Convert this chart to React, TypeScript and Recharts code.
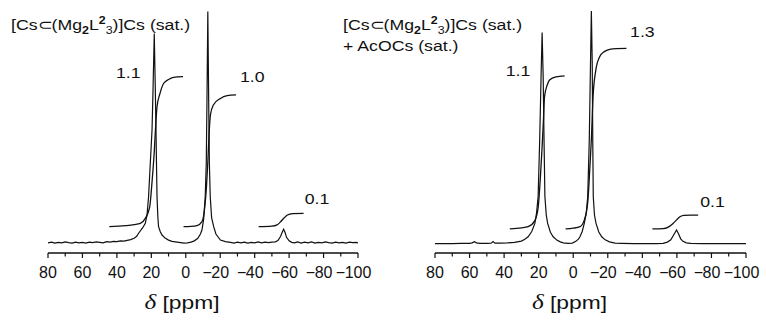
import React from "react";
import { LineChart, Line, XAxis, YAxis, ReferenceDot } from "recharts";

// x axis (delta / ppm), drawn reversed
const ppmTicks = [80, 70, 60, 50, 40, 30, 20, 10, 0, -10, -20, -30, -40, -50, -60, -70, -80, -90, -100];

// left: [Cs⊂(Mg2L2 3)]Cs (sat.)   -- [ppm, intensity]
const specLeft: [number, number][] = [
  [80, 4.0], [78, 4.3], [76, 3.9], [74, 4.2], [72, 4.0], [70, 4.4], [68, 4.1], [66, 3.9], [64, 4.3], [62, 4.0],
  [60, 4.2], [58, 3.9], [56, 4.3], [54, 4.1], [52, 4.4], [50, 4.2], [48, 4.0], [46, 4.5], [44, 4.3], [42, 4.6],
  [40, 4.5], [38, 4.8], [36, 4.7], [34, 5.0], [32, 5.3], [30, 5.8], [28.5, 6.6], [27.4, 7.8], [25, 10], [23.5, 11.7],
  [22.5, 15], [21.6, 22.3], [20.6, 35.5], [19.6, 48.6], [19, 65], [18.3, 86.8], [17.7, 65], [17.3, 48.6], [17, 35],
  [16.7, 22.3], [16.2, 14], [15.8, 10.4], [14.8, 8.4], [13.8, 7.1], [12, 5.9], [10, 5.1], [8, 4.6], [5, 4.3], [3, 4.1],
  [1, 3.9], [-1, 4.0], [-3, 4.3], [-5, 4.8], [-7, 5.8], [-8.5, 7.5], [-9.4, 9.1], [-10.4, 13.5], [-11.3, 22.3],
  [-11.9, 35.5], [-12.3, 60], [-12.8, 95.5], [-13.3, 60], [-13.7, 35.5], [-14.2, 22.3], [-15, 14], [-16.2, 10.4],
  [-17.5, 7.5], [-20.1, 5.1], [-23, 4.5], [-26, 4.2], [-28, 3.9], [-30, 4.3], [-32, 4.0], [-34, 4.3], [-36, 3.9],
  [-38, 4.2], [-40, 4.0], [-42, 4.4], [-44, 4.0], [-46, 4.3], [-48, 4.1], [-50, 4.3], [-52, 4.4], [-53.5, 4.9],
  [-55, 6.5], [-56, 8.2], [-56.8, 9.4], [-57.7, 8.0], [-58.5, 6.2], [-60, 4.8], [-61.5, 4.2], [-63, 4.0], [-65, 4.4],
  [-67, 3.9], [-69, 4.3], [-71, 4.0], [-73, 4.4], [-75, 3.9], [-77, 4.2], [-79, 4.0], [-81, 4.4], [-83, 4.1],
  [-85, 3.9], [-87, 4.3], [-89, 4.0], [-91, 4.2], [-93, 3.9], [-95, 4.3], [-97, 4.1], [-99, 4.2], [-100, 4.0],
];

const intLeft1: [number, number][] = [
  [44.4, 10.4], [35, 10.8], [30, 11.2], [26.4, 11.7], [23.5, 13.7], [21, 18], [19.6, 28], [18.3, 40], [17.5, 50],
  [16.7, 57.8], [15, 63], [12.9, 67], [10, 68.6], [7.1, 69.4], [1.6, 69.7],
];
const intLeft2: [number, number][] = [
  [1.3, 10.4], [-3, 10.5], [-6.5, 10.8], [-9.4, 12.4], [-11, 18], [-12, 26], [-12.8, 36], [-13.6, 48],
  [-14.3, 54.5], [-16, 58.5], [-20.1, 61.1], [-24, 62.2], [-29.2, 62.5],
];
const intLeft3: [number, number][] = [
  [-42.3, 10.4], [-50, 10.6], [-53, 11.1], [-55, 12.3], [-57, 13.8], [-59, 15.0], [-62, 15.6], [-68.4, 15.7],
];
const labelsLeft = [
  { ppm: 33.4, v: 71.5, text: "1.1" },
  { ppm: -38.6, v: 69.7, text: "1.0" },
  { ppm: -76.2, v: 21.6, text: "0.1" },
];

// right: + AcOCs (sat.)
const specRight: [number, number][] = [
  [80, 3.7], [75, 3.7], [70, 3.7], [65, 3.8], [60, 3.8], [58.5, 4.0], [57.2, 4.5], [56, 4.0], [54, 3.8], [50, 3.8],
  [47.5, 3.9], [46.4, 4.5], [45.3, 3.9], [42, 3.9], [38, 4.0], [34, 4.2], [30, 4.7], [28, 5.4], [26.1, 6.4],
  [24, 8.5], [22.2, 11.7], [21.2, 16], [20.3, 22.3], [19.4, 45], [18.6, 70], [18, 87.1], [17.4, 70], [16.9, 45],
  [16.4, 22.3], [15.6, 15], [14.8, 11.7], [13.2, 8.2], [11.6, 6.4], [9.5, 5.1], [7.5, 4.4], [5.8, 4.0], [3, 3.8],
  [0.5, 3.9], [-1.5, 4.6], [-3, 5.5], [-3.9, 6.4], [-5.2, 8.5], [-6.4, 11.7], [-7.5, 15.5], [-8.4, 22.3],
  [-9.3, 45], [-10, 75], [-10.5, 95.6], [-11, 75], [-11.3, 45], [-11.6, 22.3], [-12.3, 15], [-13.2, 11.7],
  [-14.8, 8.3], [-16.5, 6.4], [-18.5, 5.2], [-21, 4.4], [-24.2, 3.9], [-28, 3.8], [-35, 3.7], [-42, 3.7],
  [-48, 3.7], [-52, 3.8], [-54.5, 4.3], [-56.5, 5.2], [-58.2, 7.2], [-59.8, 9.1], [-61, 7.5], [-62.2, 5.6],
  [-63.5, 4.6], [-65.5, 4.0], [-68, 3.8], [-75, 3.7], [-85, 3.7], [-95, 3.7], [-100, 3.7],
];

const intRight1: [number, number][] = [
  [36.7, 9.5], [30, 9.9], [26.1, 10.4], [22.2, 12.8], [20.3, 18], [19, 30], [18, 42], [17.2, 53], [16.6, 61.8],
  [15, 66.5], [13.7, 68.4], [10, 69.6], [5, 70],
];
const intRight2: [number, number][] = [
  [4.4, 9.5], [0, 9.8], [-3.9, 10.4], [-6.4, 13], [-8.4, 20], [-9.5, 32], [-10.5, 45], [-11.5, 62], [-13, 72],
  [-15.3, 77.6], [-18, 79.6], [-21.1, 80.5], [-25, 80.8], [-30.8, 80.9],
];
const intRight3: [number, number][] = [
  [-45.8, 9.5], [-52, 9.6], [-55, 10.2], [-57.8, 11.7], [-60, 13.2], [-62, 14.4], [-64, 14.9], [-68, 15.0],
  [-72.3, 15.0],
];
const labelsRight = [
  { ppm: 32, v: 72.3, text: "1.1" },
  { ppm: -40, v: 87.5, text: "1.3" },
  { ppm: -80.6, v: 20.3, text: "0.1" },
];

const SANS = '"Liberation Sans", Arial, Helvetica, sans-serif';
const INK = "#111";

const toRows = (pts: [number, number][]) => pts.map(([ppm, v]) => ({ ppm, v }));

// text stretched horizontally like the scanned figure
function SText({ x, y, size, sx = 1.18, anchor = "start", children }: any) {
  return (
    <text
      transform={`translate(${x} ${y}) scale(${sx} 1)`}
      fontSize={size}
      fontFamily={SANS}
      fill={INK}
      textAnchor={anchor}
    >
      {children}
    </text>
  );
}

function PpmTick(props: any) {
  const { x, y, payload } = props;
  const val = payload.value as number;
  const major = val % 20 === 0;
  const digits = String(Math.abs(val));
  const half = (digits.length * 0.556 * 16 * 1.0) / 2;
  return (
    <g>
      <line x1={x} y1={y} x2={x} y2={y + (major ? 5 : 3.5)} stroke={INK} strokeWidth={1.2} />
      {major && (
        <SText x={x} y={y + 25} size={16} sx={1.0} anchor="middle">
          {digits}
        </SText>
      )}
      {major && val < 0 && (
        <SText x={x - half + 0.5} y={y + 25} size={16} sx={1.0} anchor="end">
          {"\u2212"}
        </SText>
      )}
    </g>
  );
}

function axisTitle(props: any) {
  const vb = props.viewBox;
  const cx = vb.x + vb.width / 2 - 21;
  return (
    <text
      transform={`translate(${cx} ${vb.y + 56}) scale(1.2 1)`}
      fontSize={19}
      fontFamily={SANS}
      fill={INK}
      textAnchor="middle"
    >
      <tspan fontFamily='"Liberation Serif", "Times New Roman", serif' fontStyle="italic" fontSize={21}>
        δ
      </tspan>
      <tspan> [ppm]</tspan>
    </text>
  );
}

function Panel({ spectrum, integrals, labels, margin }: any) {
  return (
    <LineChart width={383} height={322} margin={margin}>
      <XAxis
        type="number"
        dataKey="ppm"
        domain={[-100, 80]}
        reversed
        allowDataOverflow
        ticks={ppmTicks}
        interval={0}
        tick={<PpmTick />}
        tickLine={false}
        tickSize={0}
        tickMargin={0}
        height={69}
        axisLine={{ stroke: INK, strokeWidth: 1.3 }}
        label={{ content: axisTitle }}
      />
      <YAxis type="number" domain={[0, 100]} hide allowDataOverflow />
      <Line
        data={toRows(spectrum)}
        dataKey="v"
        type="linear"
        stroke={INK}
        strokeWidth={1.2}
        dot={false}
        isAnimationActive={false}
      />
      {integrals.map((d: [number, number][], i: number) => (
        <Line
          key={i}
          data={toRows(d)}
          dataKey="v"
          type="monotone"
          stroke={INK}
          strokeWidth={1.3}
          dot={false}
          isAnimationActive={false}
        />
      ))}
      {labels.map((l: any) => (
        <ReferenceDot
          key={l.text + l.ppm}
          x={l.ppm}
          y={l.v}
          r={1}
          shape={(p: any) => (
            <SText x={p.cx} y={p.cy + 5.5} size={15} anchor="middle">
              {l.text}
            </SText>
          )}
        />
      ))}
    </LineChart>
  );
}

function Formula({ x, y }: { x: number; y: number }) {
  return (
    <SText x={x} y={y} size={15}>
      [Cs⊂(Mg
      <tspan dy={4} fontSize={10.5} fontWeight="bold">2</tspan>
      <tspan dy={-4}>L</tspan>
      <tspan dy={-6} fontSize={10.5} fontWeight="bold">2</tspan>
      <tspan dy={10} fontSize={10.5}>3</tspan>
      <tspan dy={-4}>)]Cs (sat.)</tspan>
    </SText>
  );
}

export default function App() {
  return (
    <div style={{ position: "absolute", left: 0, top: 0, width: 766, height: 322, background: "#fff" }}>
      <div style={{ position: "absolute", left: 0, top: 0 }}>
        <Panel
          spectrum={specLeft}
          integrals={[intLeft1, intLeft2, intLeft3]}
          labels={labelsLeft}
          margin={{ top: 0, right: 25, bottom: 0, left: 48 }}
        />
      </div>
      <div style={{ position: "absolute", left: 383, top: 0 }}>
        <Panel
          spectrum={specRight}
          integrals={[intRight1, intRight2, intRight3]}
          labels={labelsRight}
          margin={{ top: 0, right: 20, bottom: 0, left: 52 }}
        />
      </div>
      <svg
        width={766}
        height={60}
        style={{ position: "absolute", left: 0, top: 0, pointerEvents: "none", overflow: "visible" }}
      >
        <Formula x={11} y={30} />
        <Formula x={343} y={30} />
        <SText x={343} y={51} size={15}>
          + AcOCs (sat.)
        </SText>
      </svg>
    </div>
  );
}
